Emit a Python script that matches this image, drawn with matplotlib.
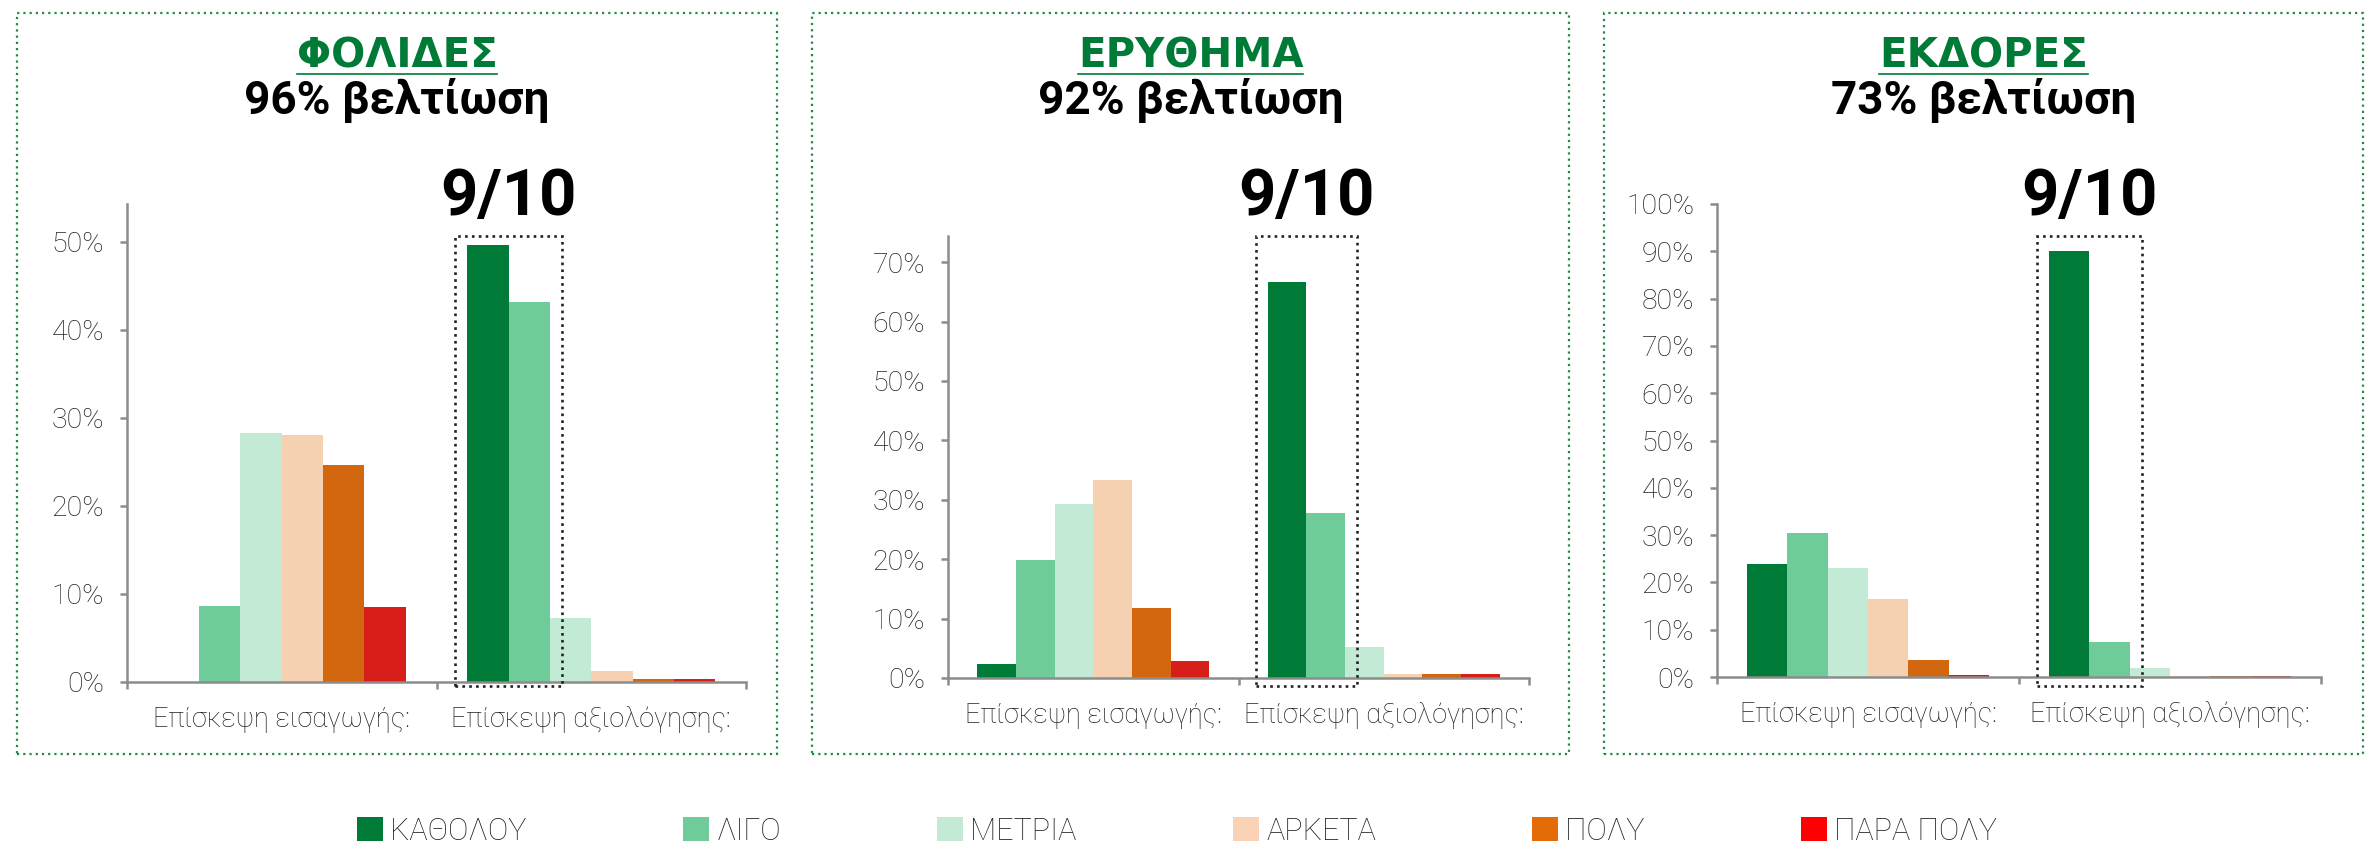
import numpy as np
import matplotlib
matplotlib.use('Agg')
import matplotlib.pyplot as plt
from matplotlib import font_manager as fm
from matplotlib.patches import Rectangle, Patch
from matplotlib.lines import Line2D
from matplotlib.ticker import PercentFormatter
from matplotlib.transforms import blended_transform_factory

###データ
categories = ['Επίσκεψη εισαγωγής:', 'Επίσκεψη αξιολόγησης:']
levels = ['ΚΑΘΟΛΟΥ', 'ΛΙΓΟ', 'ΜΕΤΡΙΑ', 'ΑΡΚΕΤΑ', 'ΠΟΛΥ', 'ΠΑΡΑ ΠΟΛΥ']
titles = ['ΦΟΛΙΔΕΣ', 'ΕΡΥΘΗΜΑ', 'ΕΚΔΟΡΕΣ']
subtitles = ['96% βελτίωση', '92% βελτίωση', '73% βελτίωση']
score_text = '9/10'

# % per level, [intro visit, evaluation visit]
foli_intro = [0.0, 8.6, 28.3, 28.1, 24.6, 8.5]
foli_eval = [49.6, 43.2, 7.3, 1.3, 0.35, 0.35]
eryth_intro = [2.4, 19.8, 29.3, 33.4, 11.7, 2.9]
eryth_eval = [66.6, 27.7, 5.3, 0.7, 0.7, 0.7]
ekd_intro = [23.8, 30.4, 23.1, 16.5, 3.6, 0.4]
ekd_eval = [90.1, 7.3, 1.9, 0.2, 0.2, 0.2]

y_max = [54.3, 74.4, 100.0]   # top of the value axis (%)
y_tick_max = [50, 70, 100]

###スタイル
bar_colors = ['#007A37', '#6FCC9A', '#C3EAD5', '#F5D0B1', '#D2670F', '#D81E18']
legend_colors = ['#007A37', '#6FCC9A', '#C3EAD5', '#FAD3B6', '#E36C09', '#FF0000']
green = '#007A37'
text_gray = '#222222'
axis_gray = '#8C8C8C'


#フォント（太字・細字が入っているファミリーを選ぶ）
def pick_family(cands, light):
    for fam in cands:
        for f in fm.fontManager.ttflist:
            if f.name != fam or f.style != 'normal':
                continue
            w = f.weight if isinstance(f.weight, int) else 400
            if (light and w <= 300) or (not light and w >= 700):
                return fam
    return 'DejaVu Sans'


bold_family = [pick_family(['Roboto', 'Open Sans', 'Lato', 'Noto Sans', 'Liberation Sans'], False), 'DejaVu Sans']
title_family = ['DejaVu Sans']
light_family = [pick_family(['Roboto', 'Open Sans', 'Lato', 'Noto Sans', 'Inter'], True), 'DejaVu Sans']
plt.rcParams['font.family'] = light_family

W, H = 2366, 848
def fx(px):
    return px / W
def fy(py):
    return 1 - py / H

panel_boxes = [(17, 13, 777, 754), (812, 13, 1569, 754), (1604, 13, 2363, 754)]
axes_px = [(127, 204, 746, 682), (948, 236, 1529, 678), (1717, 204, 2321, 677)]

values = [(foli_intro, foli_eval), (eryth_intro, eryth_eval), (ekd_intro, ekd_eval)]

bar_w = 0.8 / len(levels)
fig = plt.figure(figsize=(W / 100, H / 100), dpi=100)

title_texts = []
for i in range(3):
    l, t, r, b = panel_boxes[i]
    # dotted frame round each panel
    fig.add_artist(Rectangle((fx(l), fy(b)), (r - l) / W, (b - t) / H, transform=fig.transFigure,
                             fill=False, ec='#1E8B45', lw=1.6, ls=(0, (1, 1.8))))
    cx = fx((l + r) / 2)
    tt = fig.text(cx, fy(68), titles[i], ha='center', va='baseline', fontsize=29, fontweight='bold',
                  color=green, family=title_family)
    title_texts.append(tt)
    fig.text(cx, fy(114), subtitles[i], ha='center', va='baseline', fontsize=33, fontweight='bold',
             color='black', family=bold_family)

    x0, y0, x1, y1 = axes_px[i]
    ax = fig.add_axes([fx(x0), fy(y1), (x1 - x0) / W, (y1 - y0) / H])
    intro, evalu = values[i]
    x = np.arange(len(categories))
    for j, lvl in enumerate(levels):
        ax.bar(x + (j - 2.5) * bar_w, [intro[j], evalu[j]], width=bar_w, color=bar_colors[j], linewidth=0, label=lvl)

    ax.set_xlim(-0.5, 1.5)
    ax.set_ylim(0, y_max[i])
    ax.set_yticks(np.arange(0, y_tick_max[i] + 1, 10))
    ax.yaxis.set_major_formatter(PercentFormatter(100, decimals=0))
    ax.set_xticks([-0.5, 0.5, 1.5])
    ax.set_xticklabels([])
    ax.set_xticks(x, minor=True)
    ax.set_xticklabels(categories, minor=True)
    ax.tick_params(axis='x', which='major', length=5, width=1.8, color=axis_gray, direction='out')
    ax.tick_params(axis='x', which='minor', length=0, pad=17, labelsize=19.5, labelcolor=text_gray)
    ax.tick_params(axis='y', length=5, width=1.8, color=axis_gray, direction='out', pad=11.5,
                   labelsize=20.5, labelcolor=text_gray)
    for lab in ax.get_yticklabels() + ax.get_xticklabels(minor=True):
        lab.set_fontweight('light')
    ax.spines['top'].set_visible(False)
    ax.spines['right'].set_visible(False)
    for s in ['left', 'bottom']:
        ax.spines[s].set_color(axis_gray)
        ax.spines[s].set_linewidth(1.8)

    # dotted box round the two best answers of the evaluation visit + score
    trans = blended_transform_factory(ax.transData, fig.transFigure)
    bx0 = 1 - 3 * bar_w - 0.04
    bx1 = 1 - bar_w + 0.04
    fig.add_artist(Rectangle((bx0, fy(686)), bx1 - bx0, fy(236) - fy(686), transform=trans,
                             fill=False, ec='#222222', lw=1.9, ls=(0, (1, 1.6))))
    fig.text(1 - 2 * bar_w, fy(215), score_text, transform=trans, ha='center', va='baseline',
             fontsize=47, fontweight='bold', color='black', family=bold_family)

#凡例
handles = [Patch(facecolor=c, edgecolor='none') for c in legend_colors]
leg = fig.legend(handles, levels, loc='center', bbox_to_anchor=(1177 / W, fy(831)), ncol=6, frameon=False,
                 fontsize=22, handlelength=0.85, handleheight=0.85, handletextpad=0.25, columnspacing=5.1)
for txt in leg.get_texts():
    txt.set_color(text_gray)
    txt.set_fontweight('light')

#下線
fig.canvas.draw()
renderer = fig.canvas.get_renderer()
for tt in title_texts:
    bb = tt.get_window_extent(renderer)
    fig.add_artist(Line2D([bb.x0 / W, bb.x1 / W], [fy(74), fy(74)], transform=fig.transFigure,
                          color=green, lw=1.2))

fig.savefig('out.png', dpi=100)
